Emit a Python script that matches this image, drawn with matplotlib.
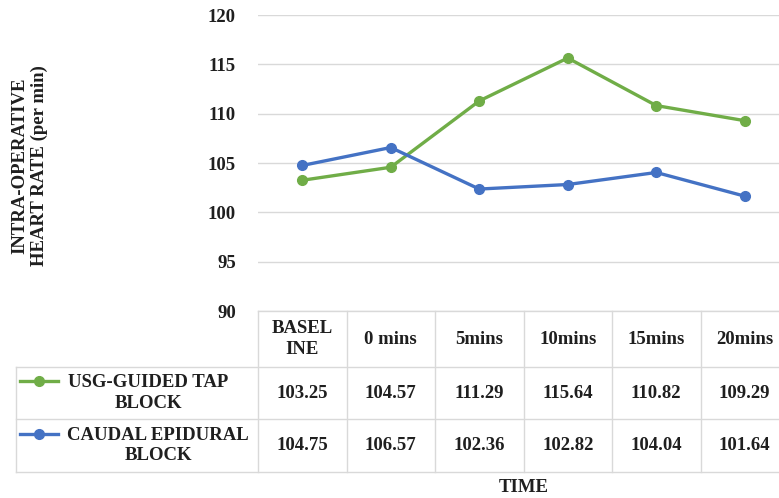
import matplotlib
matplotlib.use("Agg")
import matplotlib.pyplot as plt
import matplotlib.transforms as mtransforms
from matplotlib.lines import Line2D

# data
time_labels = ["BASEL\nINE", "0 mins", "5mins", "10mins", "15mins", "20mins"]
tap_block = [103.25, 104.57, 111.29, 115.64, 110.82, 109.29]
caudal_block = [104.75, 106.57, 102.36, 102.82, 104.04, 101.64]
series_names = ["USG-GUIDED TAP\nBLOCK", "CAUDAL EPIDURAL\nBLOCK"]
series_colors = ["#70AD47", "#4472C4"]
y_ticks = [90, 95, 100, 105, 110, 115, 120]

plt.rcParams["font.family"] = ["Liberation Serif", "DejaVu Serif"]
plt.rcParams["font.weight"] = "bold"
plt.rcParams["font.size"] = 13.5
txt_color = "#1f1f1f"
grid_color = "#D9D9D9"

W, H = 779, 498
fig = plt.figure(figsize=(W / 100, H / 100), dpi=100)

# plot area in pixels (right edge runs past the picture, as in the reference)
left, right, top, bottom = 258, 789, 15, 311
ax = fig.add_axes([left / W, 1 - bottom / H, (right - left) / W, (bottom - top) / H])

x = list(range(len(time_labels)))
for vals, col in zip([tap_block, caudal_block], series_colors):
    ax.plot(x, vals, color=col, lw=2.4, marker="o", ms=7, solid_capstyle="round", zorder=3)

ax.set_xlim(-0.5, len(time_labels) - 0.5)
ax.set_ylim(90, 120)
ax.set_yticks(y_ticks)
ax.set_xticks([])
ax.yaxis.grid(True, color=grid_color, lw=1)
ax.set_axisbelow(True)
ax.tick_params(axis="y", length=0, pad=16, colors=txt_color)
for s in ax.spines.values():
    s.set_visible(False)

# data table under the plot
trans = mtransforms.blended_transform_factory(ax.transData, fig.transFigure)


def fy(py):
    return 1 - py / H


def px2data(px):
    return -0.5 + (px - left) / (right - left) * len(time_labels)


row_y = [311, 367, 419, 472]
x_lab = px2data(16)
n = len(time_labels)

lines = []
# horizontal lines
lines.append(([-0.5, n - 0.5], [fy(row_y[0])] * 2))
for py in row_y[1:]:
    lines.append(([x_lab, n - 0.5], [fy(py)] * 2))
# vertical lines
for i in range(n + 1):
    lines.append(([i - 0.5, i - 0.5], [fy(row_y[0]), fy(row_y[-1])]))
lines.append(([x_lab, x_lab], [fy(row_y[1]), fy(row_y[-1])]))
for xs, ys in lines:
    fig.add_artist(Line2D(xs, ys, transform=trans, color=grid_color, lw=1))

# header row
for i, lab in enumerate(time_labels):
    fig.text(i, fy((row_y[0] + row_y[1]) / 2), lab, transform=trans, ha="center",
             va="center", color=txt_color, multialignment="center", linespacing=1.3)

# series rows
name_x = [148, 158]
for r, (vals, name, col) in enumerate(zip([tap_block, caudal_block], series_names, series_colors)):
    yc = (row_y[r + 1] + row_y[r + 2]) / 2
    for i, v in enumerate(vals):
        fig.text(i, fy(yc), f"{v:.2f}", transform=trans, ha="center", va="center",
                 color=txt_color)
    fig.text(name_x[r] / W, fy(yc), name, ha="center", va="center", color=txt_color,
             multialignment="center", linespacing=1.3)
    ky = fy(yc - 12)
    fig.add_artist(Line2D([20 / W, 58 / W], [ky, ky], color=col, lw=2.4))
    fig.add_artist(Line2D([39 / W], [ky], color=col, marker="o", ms=7))

# axis titles
fig.text(523.5 / W, fy(487), "TIME", ha="center", va="center", color=txt_color)
fig.text(30 / W, fy(166), "INTRA-OPERATIVE\nHEART RATE (per min)", rotation=90,
         ha="center", va="center", color=txt_color, multialignment="center",
         linespacing=1.2)

fig.savefig("out.png", dpi=100)
